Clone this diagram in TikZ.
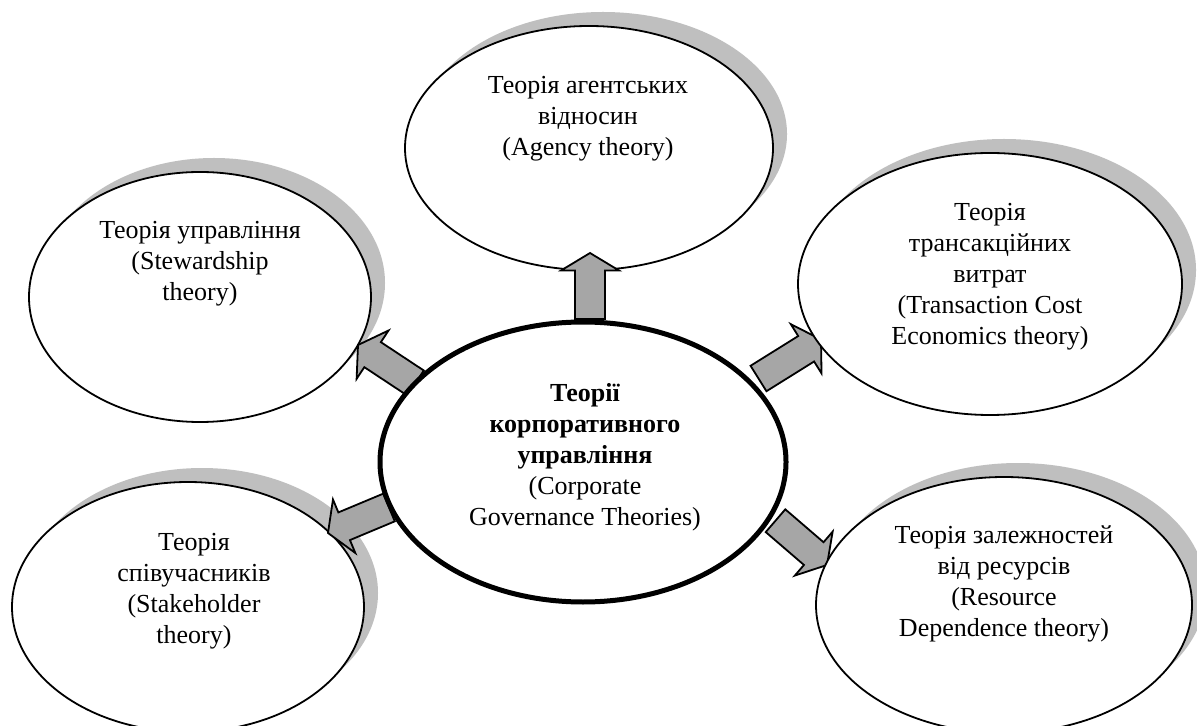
\documentclass[tikz,border=0pt]{standalone}
\usepackage{fontspec}
\setmainfont{Liberation Serif}
\usetikzlibrary{shapes.geometric,calc,shadows}
\definecolor{arrowgray}{HTML}{A6A6A6}
\definecolor{shadowgray}{HTML}{BFBFBF}
\def\sw{7.5pt}
\def\hw{14.5pt}
\def\hl{8.75pt}
\newcommand\blockarr[2]{%
  \draw[barrow] ($(#1)!\sw!90:(#2)$) -- ($(#2)!\hl!(#1)!\sw!90:(#2)$) -- ($(#2)!\hl!(#1)!\hw!90:(#2)$) -- (#2)
    -- ($(#2)!\hl!(#1)!\hw!-90:(#2)$) -- ($(#2)!\hl!(#1)!\sw!-90:(#2)$) -- ($(#1)!\sw!-90:(#2)$) -- cycle;}
\begin{document}
\begin{tikzpicture}[x=0.5pt,y=-0.5pt,
  txt/.style={align=center,font=\fontsize{13pt}{15.5pt}\selectfont,inner sep=0pt},
  oval/.style={ellipse,draw=black,line width=0.9pt,fill=white,inner sep=0pt},
  shadowed/.style={drop shadow={shadow xshift=7pt,shadow yshift=7pt,fill=shadowgray,opacity=1}},
  barrow/.style={draw=black,line width=0.9pt,fill=arrowgray,line join=miter}]
\useasboundingbox (0,0) rectangle (1197,726);
\clip (0,0) rectangle (1197,726);
\fill[white] (0,0) rectangle (1197,726);
% outer ellipses drawn below the arrows
\node[oval,shadowed,minimum width=171pt,minimum height=125pt] (steward) at (200,297) {};
\node[oval,shadowed,minimum width=176pt,minimum height=125pt] (stake) at (188,607) {};
\node[oval,shadowed,minimum width=184pt,minimum height=122pt] (agency) at (589,148) {};
% arrows
\coordinate (upB) at (590,319);   \coordinate (upT) at (590,253);
\coordinate (ulB) at (415.5,383); \coordinate (ulT) at (358,345);
\coordinate (urB) at (758.5,378.5); \coordinate (urT) at (821,339.5);
\coordinate (llB) at (389,507.5); \coordinate (llT) at (328,533);
\coordinate (lrB) at (775.5,520.7); \coordinate (lrT) at (827,565);
\blockarr{upB}{upT}
\blockarr{ulB}{ulT}
\blockarr{urB}{urT}
\blockarr{llB}{llT}
\blockarr{lrB}{lrT}
% outer ellipses drawn above the arrows
\node[oval,shadowed,minimum width=192pt,minimum height=131pt] (trans) at (990,284) {};
\node[oval,shadowed,minimum width=188pt,minimum height=128pt] (res) at (1004,605) {};
% central ellipse
\node[oval,line width=2.5pt,minimum width=203pt,minimum height=140pt] (central) at (583,462) {};
% texts
\node[txt] (tAgency) at (588,119) {Теорія агентських\\відносин\\(Agency theory)};
\node[txt] (tSteward) at (200,263.5) {Теорія управління\\(Stewardship\\theory)};
\node[txt] (tTrans) at (990,276.5) {Теорія\\трансакційних\\витрат\\(Transaction Cost\\Economics theory)};
\node[txt] (tStake) at (194,591) {Теорія\\співучасників\\(Stakeholder\\theory)};
\node[txt] (tRes) at (1004,583.5) {Теорія залежностей\\від ресурсів\\(Resource\\Dependence theory)};
\node[txt] (tCentral) at (585,457) {\textbf{Теорії}\\\textbf{корпоративного}\\\textbf{управління}\\(Corporate\\Governance Theories)};
\end{tikzpicture}
\end{document}
